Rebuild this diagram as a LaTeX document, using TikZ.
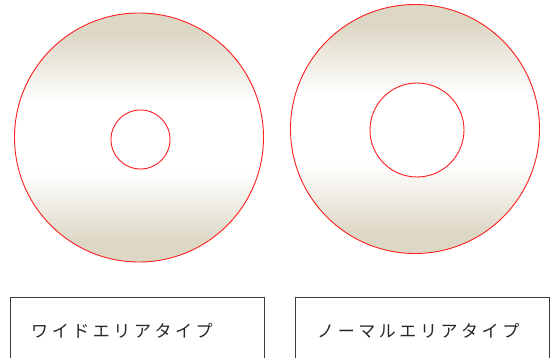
\documentclass[tikz,border=0pt]{standalone}
\usepackage{fontspec}
\newfontfamily\jpfont{Noto Sans CJK JP}[LetterSpace=21]
\definecolor{disctan}{RGB}{221,215,197}
\definecolor{discred}{RGB}{255,30,30}
\definecolor{boxline}{RGB}{60,60,60}
\pgfdeclareverticalshading{discshade}{100bp}{color(0bp)=(disctan); color(25bp)=(disctan); color(29bp)=(disctan); color(43bp)=(white); color(57bp)=(white); color(71bp)=(disctan); color(75bp)=(disctan); color(100bp)=(disctan)}
\tikzset{
  ring/.style={draw=discred, line width=0.9pt},
  hole/.style={draw=discred, line width=0.9pt, fill=white},
  labelbox/.style={draw=boxline, line width=0.8pt},
  lbl/.style={font=\jpfont\fontsize{17}{20}\selectfont, text=black!85, anchor=west, inner sep=0pt}
}
\begin{document}
\begin{tikzpicture}[x=1pt,y=-1pt]
\useasboundingbox (0,0) rectangle (552,358);
% left disc (wide area)
\shade[shading=discshade] (139,137.5) circle (124.5);
\draw[ring] (139,137.5) circle (124.5);
\draw[hole] (140.5,139.5) circle (29.5);
% right disc (normal area)
\shade[shading=discshade] (415,129) circle (124.5);
\draw[ring] (415,129) circle (124.5);
\draw[hole] (417,130) circle (47);
% label boxes (cut by bottom edge)
\draw[labelbox] (10,358) -- (10,297) -- (264,297) -- (264,358);
\draw[labelbox] (295.5,358) -- (295.5,297) -- (549,297) -- (549,358);
\node[lbl] (t1) at (31,331) {ワイドエリアタイプ};
\node[lbl] (t2) at (317,331) {ノーマルエリアタイプ};
\end{tikzpicture}
\end{document}
